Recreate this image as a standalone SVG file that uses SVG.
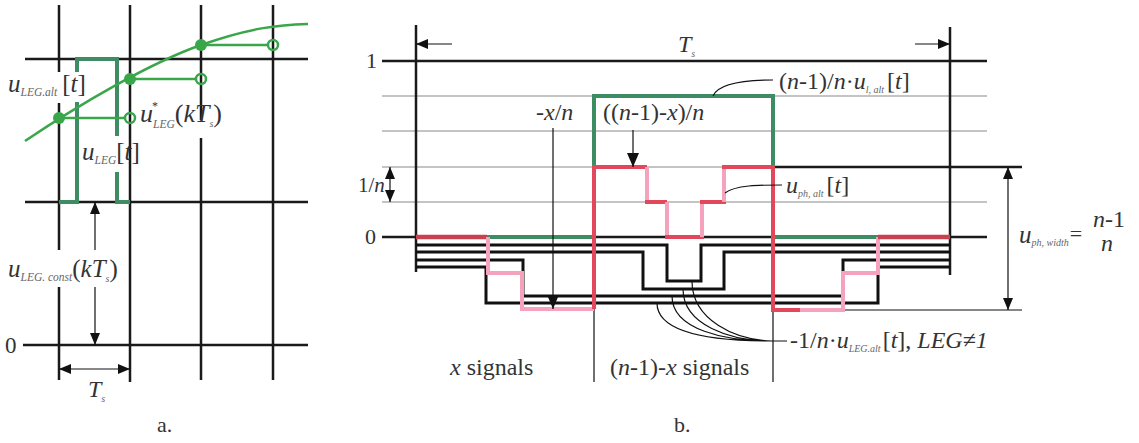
<svg xmlns="http://www.w3.org/2000/svg" width="1139" height="443" viewBox="0 0 1139 443">
<style>
.t{font-family:'Liberation Serif','DejaVu Serif',serif;fill:#333}
.i{font-style:italic}
.s{font-size:10px;font-style:italic;fill:#666}
.sa{font-size:11.5px;font-style:italic;fill:#666}
.grid{stroke:#1a1a1a;stroke-width:2.5;fill:none}
.thin{stroke:#8a8a8a;stroke-width:1.2;fill:none}
.blk{stroke:#111;stroke-width:3;fill:none}
.ln{stroke:#111;stroke-width:1.2;fill:none}
.gc{stroke:#3aa64a;stroke-width:2.5;fill:none}
.gp{stroke:#3d8c63;stroke-width:4;fill:none}
.red{stroke:#e2475c;stroke-width:4;fill:none}
.dred{stroke:#c9414f;stroke-width:4.5;fill:none}
.pink{stroke:#f5a3bd;stroke-width:4;fill:none}
</style>
<defs>
<marker id="ah" viewBox="0 0 12 10" refX="12" refY="5" markerWidth="12" markerHeight="10" markerUnits="userSpaceOnUse" orient="auto-start-reverse"><path d="M0,0 L12,5 L0,10 z" fill="#111"/></marker>
<marker id="ahL" viewBox="0 0 14 12" refX="14" refY="6" markerWidth="14" markerHeight="12" markerUnits="userSpaceOnUse" orient="auto-start-reverse"><path d="M0,0 L14,6 L0,12 z" fill="#111"/></marker>
</defs>
<rect width="1139" height="443" fill="#fff"/>

<!-- Panel a -->
<g id="panel-a-grid">
<path class="grid" d="M25,59 H308 M25,202 H308 M23,345 H308"/>
<path class="grid" d="M59,5 V72 M59,103 V250 M59,287 V380 M130,5 V382 M201,5 V120 M201,138 V380 M273,5 V380"/>
</g>
<g id="panel-a-pulse">
<path class="gp" d="M59,202 H77 V102 M77,72 V59 H117 V136 M117,172 V202 H130"/>
</g>
<g id="panel-a-curve">
<path class="gc" d="M25,141 C80,104 150,63 201,45 S280,25 308,24"/>
<path class="gc" d="M59,118 H125 M130,79 H196 M201,45 H268"/>
<circle cx="59" cy="118" r="6" fill="#3aa64a"/>
<circle cx="130" cy="79" r="6" fill="#3aa64a"/>
<circle cx="201" cy="45" r="6" fill="#3aa64a"/>
<circle cx="130" cy="118" r="5" class="gc"/>
<circle cx="201" cy="79" r="5" class="gc"/>
<circle cx="273" cy="45" r="5" class="gc"/>
</g>
<g id="panel-a-arrows">
<path class="ln" d="M95,250 V202" marker-end="url(#ah)"/>
<path class="ln" d="M95,287 V345" marker-end="url(#ah)"/>
<path class="ln" d="M59,369 H130" marker-start="url(#ah)" marker-end="url(#ah)"/>
</g>
<g id="panel-a-labels" class="t" font-family="Liberation Serif, DejaVu Serif, serif">
<text x="8" y="92" font-size="25"><tspan class="i">u</tspan><tspan dy="4" class="sa">LEG.alt</tspan><tspan dx="5" dy="-4">[</tspan><tspan class="i">t</tspan><tspan>]</tspan></text>
<text x="140" y="122" font-size="26"><tspan class="i">u</tspan><tspan dy="6" class="sa">LEG</tspan><tspan dy="-6">(</tspan><tspan class="i">kT</tspan><tspan class="s" dy="5">s</tspan><tspan dy="-5">)</tspan></text>
<text x="152" y="110" font-size="12">*</text>
<text x="82" y="160" font-size="25"><tspan class="i">u</tspan><tspan dy="4" class="sa">LEG</tspan><tspan dy="-4">[</tspan><tspan class="i">t</tspan><tspan>]</tspan></text>
<text x="8" y="277" font-size="25"><tspan class="i">u</tspan><tspan dy="4" class="sa">LEG. const</tspan><tspan dy="-4">(</tspan><tspan class="i">kT</tspan><tspan class="s" dy="5">s</tspan><tspan dy="-5">)</tspan></text>
<text x="5" y="353" font-size="23">0</text>
<text x="88" y="397" font-size="24"><tspan class="i">T</tspan><tspan class="s" dy="5">s</tspan></text>
<text x="157" y="432" font-size="22">a.</text>
</g>

<!-- Panel b -->
<g id="panel-b-grid">
<path class="thin" d="M382,96 H987 M382,131 H987 M382,167 H773 M382,202 H987"/>
<path class="grid" d="M382,61 H987 M382,237 H987 M773,167 H1022"/>
<path class="ln" d="M773,310 H1022" stroke-width="1.6"/>
<path class="grid" d="M416,25 V272 M950,27 V275"/>
<path class="ln" stroke-width="2" d="M594,237 V382 M773,237 V382"/>
</g>
<g id="panel-b-legs">
<path class="blk" d="M416,245 H667 V281 H701 V245 H950"/>
<path class="blk" d="M416,252 H643 V289 H724 V252 H950"/>
<path class="blk" d="M416,260 H523 V296 H843 V260 H950"/>
<path class="blk" d="M416,267 H486 V303 H878 V267 H950"/>
</g>
<g id="panel-b-green">
<path class="gp" d="M416,237 H594 V96 H773 V237 H950" stroke="#3b7f5e"/>
</g>
<g id="panel-b-phase">
<path class="dred" d="M416,237 H487"/>
<path class="pink" d="M488,237 V273 H522 V309 H594"/>
<path class="red" d="M594,309 V167 H647"/>
<path class="pink" d="M647,167 V202"/>
<path class="red" d="M645,202 H667"/>
<path class="pink" d="M667,202 V237"/>
<path class="red" d="M665,237 H704"/>
<path class="pink" d="M702,237 V202"/>
<path class="red" d="M700,202 H726"/>
<path class="pink" d="M724,202 V167"/>
<path class="red" d="M722,167 H773 V310 H800"/>
<path class="pink" d="M800,310 H843 V273 H878 V237"/>
<path class="dred" d="M878,237 H950"/>
</g>
<g id="connectors">
<path class="ln" d="M452,44 H416" marker-end="url(#ah)"/>
<path class="ln" d="M915,44 H950" marker-end="url(#ah)"/>
<path class="ln" d="M390,167 V202" marker-start="url(#ah)" marker-end="url(#ah)"/>
<path class="ln" d="M633,130 V167" stroke-width="1.6" marker-end="url(#ahL)"/>
<path class="ln" d="M553,128 V309" marker-end="url(#ah)"/>
<path class="ln" d="M1008,167 V310" marker-start="url(#ah)" marker-end="url(#ah)"/>
<path class="ln" d="M713,96 C718,84 740,80 773,80"/>
<path class="ln" d="M725,193 C735,185 760,185 782,185"/>
<path class="ln" d="M657,303 C657,335 720,341 772,341 M672,296 C672,330 725,341 772,341 M683,289 C683,325 730,341 772,341 M692,281 C692,320 735,340 772,341 M772,341 H787"/>
</g>
<g id="panel-b-labels" class="t" font-family="Liberation Serif, DejaVu Serif, serif">
<text x="678" y="52" font-size="24"><tspan class="i">T</tspan><tspan class="s" dy="5">s</tspan></text>
<text x="366" y="68" font-size="22">1</text>
<text x="365" y="244" font-size="22">0</text>
<text x="358" y="192" font-size="21">1/<tspan class="i">n</tspan></text>
<text x="536" y="120" font-size="24">-<tspan class="i">x</tspan>/<tspan class="i">n</tspan></text>
<text x="603" y="120" font-size="24">((<tspan class="i">n</tspan>-1)-<tspan class="i">x</tspan>)/<tspan class="i">n</tspan></text>
<text x="779" y="89" font-size="24"><tspan>(</tspan><tspan class="i">n</tspan><tspan>-1)/</tspan><tspan class="i">n</tspan><tspan>·</tspan><tspan class="i">u</tspan><tspan dy="4" class="s">l, alt</tspan><tspan dx="3" dy="-4">[</tspan><tspan class="i">t</tspan><tspan>]</tspan></text>
<text x="786" y="193" font-size="24"><tspan class="i">u</tspan><tspan dy="4" class="s">ph, alt</tspan><tspan dx="3" dy="-4">[</tspan><tspan class="i">t</tspan><tspan>]</tspan></text>
<text x="1019" y="243" font-size="25"><tspan class="i">u</tspan><tspan dy="3" class="s">ph, width</tspan><tspan dx="1" dy="-5" font-size="22">=</tspan></text>
<text x="1093" y="227" font-size="24"><tspan class="i">n</tspan>-1</text>
<text x="1101" y="251" font-size="24" class="i">n</text>
<text x="790" y="348" font-size="24"><tspan>-1/</tspan><tspan class="i">n</tspan><tspan>·</tspan><tspan class="i">u</tspan><tspan dy="4" class="s">LEG.alt</tspan><tspan dx="2" dy="-4">[</tspan><tspan class="i">t</tspan><tspan>], </tspan><tspan class="i">LEG≠1</tspan></text>
<text x="450" y="375" font-size="24"><tspan class="i">x</tspan> signals</text>
<text x="610" y="375" font-size="24">(<tspan class="i">n</tspan>-1)-<tspan class="i">x</tspan> signals</text>
<text x="674" y="432" font-size="22">b.</text>
</g>
</svg>
